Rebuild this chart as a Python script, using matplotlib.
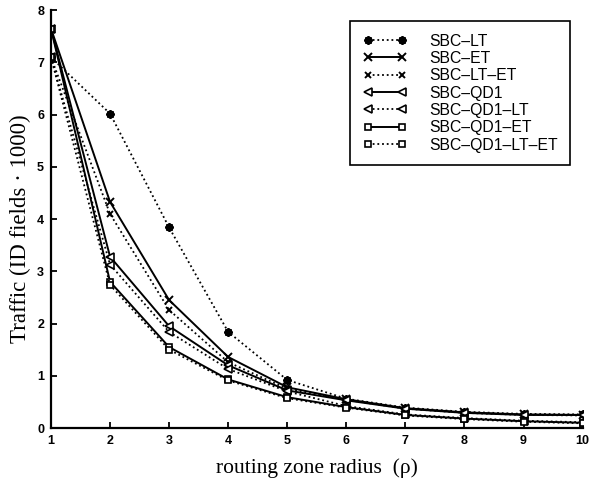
import matplotlib
matplotlib.use("Agg")
import matplotlib.pyplot as plt

# routing zone radius
radius = [1, 2, 3, 4, 5, 6, 7, 8, 9, 10]

# traffic values (ID fields * 1000)
sbc_lt = [7.1, 6.02, 3.84, 1.84, 0.92, 0.56, 0.39, 0.31, 0.27, 0.26]
sbc_et = [7.65, 4.33, 2.45, 1.36, 0.78, 0.55, 0.38, 0.30, 0.26, 0.25]
sbc_lt_et = [7.1, 4.1, 2.26, 1.26, 0.75, 0.54, 0.37, 0.29, 0.25, 0.24]
sbc_qd1 = [7.65, 3.28, 1.95, 1.20, 0.72, 0.53, 0.37, 0.29, 0.25, 0.25]
sbc_qd1_lt = [7.1, 3.13, 1.84, 1.13, 0.70, 0.42, 0.26, 0.19, 0.14, 0.11]
sbc_qd1_et = [7.65, 2.80, 1.55, 0.93, 0.59, 0.40, 0.25, 0.18, 0.13, 0.10]
sbc_qd1_lt_et = [7.1, 2.74, 1.50, 0.91, 0.57, 0.39, 0.24, 0.17, 0.12, 0.09]

labels = ["SBC\u2013LT", "SBC\u2013ET", "SBC\u2013LT\u2013ET", "SBC\u2013QD1",
          "SBC\u2013QD1\u2013LT", "SBC\u2013QD1\u2013ET", "SBC\u2013QD1\u2013LT\u2013ET"]

fig = plt.figure(figsize=(5.9, 4.78), dpi=100)
ax = fig.add_axes([0.0864, 0.1046, 0.901, 0.874])

k = "black"
dot = (0, (1, 1.6))
ax.plot(radius, sbc_lt, ls=dot, color=k, lw=1.3, marker=(8, 2, 0), ms=6, mew=1.5, label=labels[0])
ax.plot(radius, sbc_et, ls="-", color=k, lw=1.4, marker="x", ms=6, mew=1.4, label=labels[1])
ax.plot(radius, sbc_lt_et, ls=dot, color=k, lw=1.3, marker="x", ms=5, mew=1.4, label=labels[2])
ax.plot(radius, sbc_qd1, ls="-", color=k, lw=1.4, marker="<", ms=6, mfc="white", mew=1.2, label=labels[3])
ax.plot(radius, sbc_qd1_lt, ls=dot, color=k, lw=1.3, marker="<", ms=6, mfc="white", mew=1.2, label=labels[4])
ax.plot(radius, sbc_qd1_et, ls="-", color=k, lw=1.4, marker="s", ms=5, mfc="white", mew=1.2, label=labels[5])
ax.plot(radius, sbc_qd1_lt_et, ls=dot, color=k, lw=1.3, marker="s", ms=5, mfc="white", mew=1.2, label=labels[6])

ax.set_xlim(1, 10)
ax.set_ylim(0, 8)
ax.set_xticks(range(1, 11))
ax.set_yticks(range(0, 9))
for s in ["top", "right"]:
    ax.spines[s].set_visible(False)
for s in ["left", "bottom"]:
    ax.spines[s].set_linewidth(1.6)
ax.tick_params(direction="in", length=4, width=1.3, pad=5)
for t in ax.get_xticklabels() + ax.get_yticklabels():
    t.set_fontfamily("Liberation Sans")
    t.set_fontweight("bold")
    t.set_fontsize(9)

ax.set_xlabel("routing zone radius  (\u03c1)", family="Liberation Serif", fontsize=15.5, labelpad=8)
ax.set_ylabel("Traffic (ID fields \u00b7 1000)", family="Liberation Serif", fontsize=16.5, labelpad=4)
ax.yaxis.label.set_y(0.478)

leg = ax.legend(loc="upper right", bbox_to_anchor=(570 / 590, 1 - 21 / 478),
                bbox_transform=fig.transFigure, prop={"family": "Liberation Sans", "size": 11.3},
                fancybox=False, edgecolor="black", framealpha=1, numpoints=2,
                handlelength=2.8, labelspacing=0.15, borderpad=0.8, borderaxespad=0,
                handletextpad=1.4)
leg.get_frame().set_linewidth(1.2)

fig.savefig("out.png", dpi=100)
